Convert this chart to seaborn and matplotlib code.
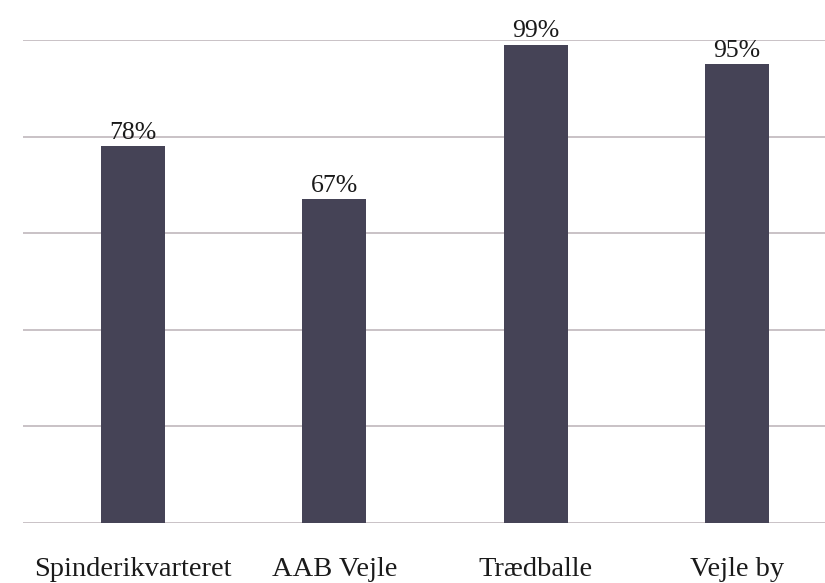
import matplotlib
matplotlib.use('Agg')
import matplotlib.pyplot as plt
import seaborn as sns
import pandas as pd

omraader = ['Spinderikvarteret', 'AAB Vejle', 'Trædballe', 'Vejle by']
andel = [78, 67, 99, 95]

df = pd.DataFrame({'omraade': omraader, 'andel': andel})

sns.set_theme(style='white')
plt.rcParams['font.family'] = ['Liberation Serif', 'DejaVu Serif']

fig = plt.figure(figsize=(8.25, 5.83), dpi=100)
ax = fig.add_axes([0.0279, 0.1034, 0.9721, 0.8275])

sns.barplot(data=df, x='omraade', y='andel', color='#454356', saturation=1,
            width=0.318, ax=ax, zorder=3, edgecolor='none', linewidth=0)

ax.set_ylim(0, 100)
ax.set_xlim(-0.546, 3.438)
ax.set_yticks([0, 20, 40, 60, 80, 100])
ax.yaxis.grid(True, color='#bab2b6', linewidth=1.1, zorder=0)
ax.set_yticklabels([])
ax.tick_params(axis='y', length=0)
ax.tick_params(axis='x', length=0, pad=25, labelsize=20.5, labelcolor='#1a1a1a')
ax.set_xlabel('')
ax.set_ylabel('')
for s in ax.spines.values():
    s.set_visible(False)

ax.bar_label(ax.containers[0], labels=[f'{v}%' for v in andel], padding=2,
             fontsize=18.5, color='#1a1a1a')

fig.savefig('out.png', dpi=100)
